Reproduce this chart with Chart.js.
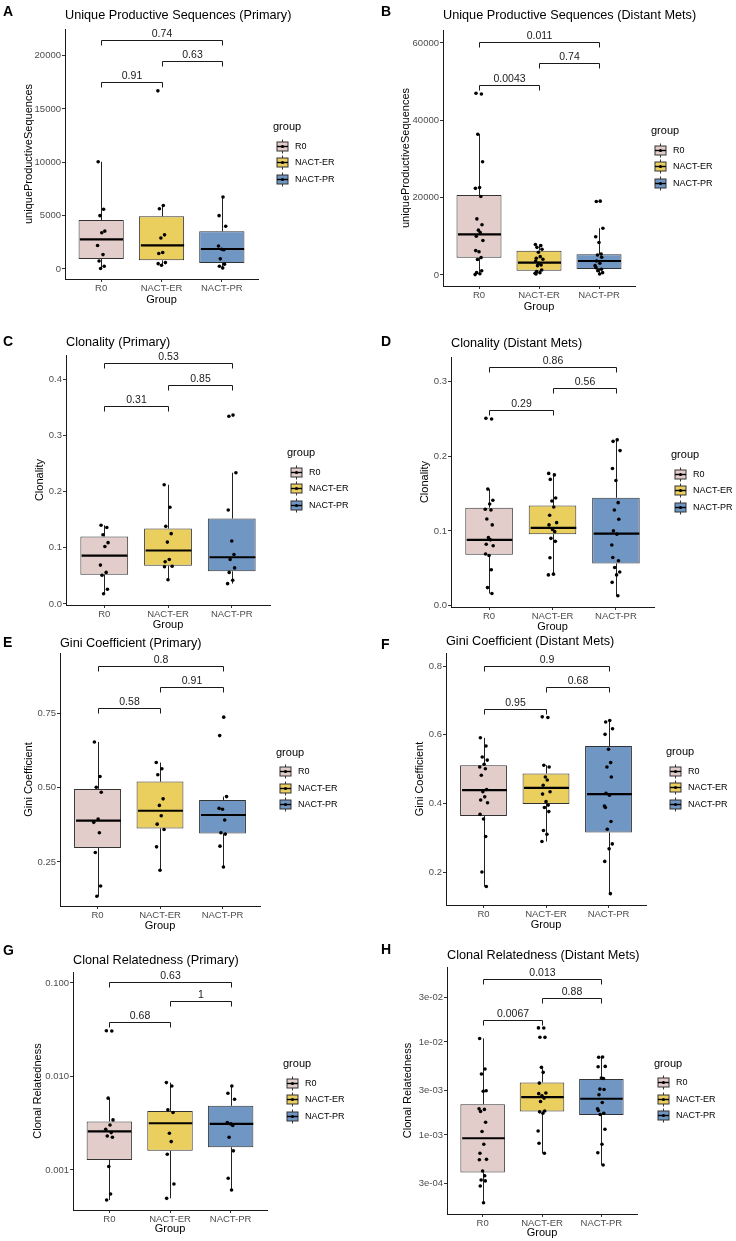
<!DOCTYPE html>
<html>
<head>
<meta charset="utf-8">
<script src="https://cdn.jsdelivr.net/npm/chart.js@4.4.0/dist/chart.umd.min.js"></script>
<style>
  html, body { margin: 0; padding: 0; background: #fff; overflow: hidden; }
  #figure { position: relative; width: 736px; height: 1241px; background: #fff; }
  #figure canvas { position: absolute; }
</style>
</head>
<body>
<div id="figure"></div>
<script>
// ---- data ----
const categories = ['R0', 'NACT-ER', 'NACT-PR'];
const bracketPairs = [[1, 2], [2, 3], [1, 3]];

// A: unique productive sequences, primary
const uniquePrimaryPoints = [
  [10050, 5600, 5000, 3550, 3400, 2200, 1350, 750, 250, 50],
  [16700, 5950, 5650, 3200, 2900, 1550, 1450, 600, 500, 350],
  [6750, 5000, 4000, 2150, 1850, 1800, 950, 450, 250, 100]
];
const uniquePrimaryBoxes = [   // [lower whisker, q1, median, q3, upper whisker]
  [50, 940, 2780, 4590, 10050],
  [350, 810, 2220, 4940, 5950],
  [100, 560, 1875, 3530, 6750]
];
const uniquePrimaryTicks = [0, 5000, 10000, 15000, 20000];
const uniquePrimaryTickLabels = ['0', '5000', '10000', '15000', '20000'];
const uniquePrimaryBrackets = [17500, 19530, 21500];
const uniquePrimaryPValues = ['0.91', '0.63', '0.74'];

// B: unique productive sequences, distant mets
const uniqueMetsPoints = [
  [47000, 46800, 36400, 29300, 22600, 22400, 20300, 14500, 13000, 11600, 11000, 10000, 8900, 6300, 6000, 4500, 4000, 1100, 600, 300, 100],
  [7900, 7600, 7150, 6640, 5860, 4740, 4310, 4050, 3620, 3020, 2590, 2410, 1290, 860, 600, 430, 260],
  [19100, 19000, 12100, 9900, 8400, 5430, 5170, 4570, 3620, 3020, 2410, 1900, 1470, 1120, 600, 260]
];
const uniqueMetsBoxes = [
  [100, 4480, 10520, 20690, 36400],
  [260, 1120, 3190, 6290, 7900],
  [260, 1550, 3620, 5345, 12100]
];
const uniqueMetsTicks = [0, 20000, 40000, 60000];
const uniqueMetsTickLabels = ['0', '20000', '40000', '60000'];
const uniqueMetsBrackets = [49140, 54740, 60340];
const uniqueMetsPValues = ['0.0043', '0.74', '0.011'];

// C: clonality, primary
const clonalityPrimaryPoints = [
  [0.140, 0.136, 0.123, 0.109, 0.102, 0.069, 0.056, 0.051, 0.026, 0.018],
  [0.212, 0.172, 0.138, 0.125, 0.110, 0.079, 0.075, 0.067, 0.066, 0.043],
  [0.336, 0.334, 0.2335, 0.167, 0.112, 0.088, 0.079, 0.064, 0.056, 0.042, 0.036]
];
const clonalityPrimaryBoxes = [
  [0.018, 0.052, 0.086, 0.120, 0.140],
  [0.043, 0.068, 0.095, 0.134, 0.212],
  [0.036, 0.058, 0.083, 0.152, 0.2335]
];
const clonalityPrimaryTicks = [0, 0.1, 0.2, 0.3, 0.4];
const clonalityPrimaryTickLabels = ['0.0', '0.1', '0.2', '0.3', '0.4'];
const clonalityPrimaryBrackets = [0.353, 0.390, 0.429];
const clonalityPrimaryPValues = ['0.31', '0.85', '0.53'];

// D: clonality, distant mets
const clonalityMetsPoints = [
  [0.251, 0.250, 0.156, 0.141, 0.136, 0.129, 0.128, 0.116, 0.108, 0.091, 0.088, 0.082, 0.080, 0.069, 0.067, 0.048, 0.024, 0.016],
  [0.177, 0.175, 0.169, 0.144, 0.140, 0.132, 0.121, 0.111, 0.108, 0.102, 0.099, 0.090, 0.086, 0.064, 0.042, 0.041],
  [0.222, 0.220, 0.2076, 0.1836, 0.1676, 0.1378, 0.128, 0.1156, 0.100, 0.0956, 0.081, 0.0644, 0.060, 0.051, 0.045, 0.041, 0.031, 0.013]
];
const clonalityMetsBoxes = [
  [0.016, 0.068, 0.088, 0.131, 0.156],
  [0.041, 0.0956, 0.104, 0.134, 0.177],
  [0.013, 0.0564, 0.0964, 0.1444, 0.222]
];
const clonalityMetsTicks = [0, 0.1, 0.2, 0.3];
const clonalityMetsTickLabels = ['0.0', '0.1', '0.2', '0.3'];
const clonalityMetsBrackets = [0.262, 0.291, 0.319];
const clonalityMetsPValues = ['0.29', '0.56', '0.86'];

// E: gini coefficient, primary
const giniPrimaryPoints = [
  [0.653, 0.537, 0.501, 0.484, 0.394, 0.383, 0.348, 0.2815, 0.169, 0.135],
  [0.584, 0.563, 0.543, 0.462, 0.440, 0.405, 0.377, 0.359, 0.3007, 0.222],
  [0.7365, 0.6745, 0.4696, 0.430, 0.4268, 0.3908, 0.348, 0.3435, 0.303, 0.233]
];
const giniPrimaryBoxes = [
  [0.135, 0.297, 0.3885, 0.4955, 0.653],
  [0.222, 0.3626, 0.422, 0.520, 0.584],
  [0.233, 0.3457, 0.4077, 0.458, 0.4696]
];
const giniPrimaryTicks = [0.25, 0.5, 0.75];
const giniPrimaryTickLabels = ['0.25', '0.50', '0.75'];
const giniPrimaryBrackets = [0.766, 0.838, 0.909];
const giniPrimaryPValues = ['0.58', '0.91', '0.8'];

// F: gini coefficient, distant mets
const giniMetsPoints = [
  [0.591, 0.567, 0.535, 0.526, 0.514, 0.506, 0.501, 0.482, 0.4406, 0.434, 0.419, 0.4097, 0.402, 0.368, 0.3546, 0.3034, 0.200, 0.158],
  [0.652, 0.650, 0.511, 0.506, 0.477, 0.468, 0.453, 0.434, 0.427, 0.405, 0.395, 0.388, 0.376, 0.321, 0.310, 0.289],
  [0.6415, 0.637, 0.6174, 0.601, 0.5575, 0.5188, 0.506, 0.477, 0.429, 0.424, 0.392, 0.388, 0.347, 0.3246, 0.282, 0.2676, 0.231, 0.137]
];
const giniMetsBoxes = [
  [0.158, 0.3633, 0.4386, 0.511, 0.591],
  [0.289, 0.398, 0.4454, 0.487, 0.511],
  [0.137, 0.315, 0.427, 0.567, 0.6415]
];
const giniMetsTicks = [0.2, 0.4, 0.6, 0.8];
const giniMetsTickLabels = ['0.2', '0.4', '0.6', '0.8'];
const giniMetsBrackets = [0.675, 0.740, 0.801];
const giniMetsPValues = ['0.95', '0.68', '0.9'];

// G: clonal relatedness, primary (log axis)
const relatedPrimaryPoints = [
  [0.0308, 0.0306, 0.00586, 0.00343, 0.00303, 0.00273, 0.00251, 0.00231, 0.00224, 0.00109, 0.000553, 0.000477],
  [0.0086, 0.0079, 0.0044, 0.00411, 0.00247, 0.00201, 0.00147, 0.000708, 0.000497],
  [0.0079, 0.00662, 0.00571, 0.00321, 0.00311, 0.00299, 0.00224, 0.0016, 0.000814, 0.00061]
];
const relatedPrimaryBoxes = [
  [0.000477, 0.00128, 0.00258, 0.0033, 0.00586],
  [0.000497, 0.0016, 0.00316, 0.00428, 0.0086],
  [0.00061, 0.00175, 0.00311, 0.00485, 0.0079]
];
const relatedPrimaryTicks = [0.001, 0.01, 0.1];
const relatedPrimaryTickLabels = ['0.001', '0.010', '0.100'];
const relatedPrimaryBrackets = [0.0379, 0.0637, 0.1026];
const relatedPrimaryPValues = ['0.68', '1', '0.63'];

// H: clonal relatedness, distant mets (log axis)
const relatedMetsPoints = [
  [0.0109, 0.00512, 0.00452, 0.00299, 0.00295, 0.00191, 0.00188, 0.00179, 0.00137, 0.00109, 0.000793, 0.000634, 0.000546, 0.00054, 0.000409, 0.000364, 0.000327, 0.00032, 0.000282, 0.000186],
  [0.01416, 0.0141, 0.01122, 0.0112, 0.00533, 0.00471, 0.00361, 0.00282, 0.00278, 0.00264, 0.00249, 0.00229, 0.00181, 0.00177, 0.00171, 0.0011, 0.000813, 0.000634],
  [0.00689, 0.00685, 0.00546, 0.0054, 0.00409, 0.00405, 0.00311, 0.00308, 0.0027, 0.00223, 0.00191, 0.00183, 0.00171, 0.00166, 0.00115, 0.000793, 0.000644, 0.000474]
];
const relatedMetsBoxes = [
  [0.000186, 0.000395, 0.00092, 0.00214, 0.0109],
  [0.000634, 0.00179, 0.00255, 0.00367, 0.00533],
  [0.000474, 0.00164, 0.00245, 0.00399, 0.00689]
];
const relatedMetsTicks = [0.0003, 0.001, 0.003, 0.01, 0.03];
const relatedMetsTickLabels = ['3e-04', '1e-03', '3e-03', '1e-02', '3e-02'];
const relatedMetsBrackets = [0.0174, 0.0294, 0.0471];
const relatedMetsPValues = ['0.0067', '0.88', '0.013'];

// fixed horizontal jitter pattern (in category units)
const jitterOffsets = [-0.05, 0.04, -0.02, 0.06, 0.01, -0.06, 0.03, -0.035, 0.05, -0.01, 0.02, -0.045, 0.065, -0.055, 0.0, 0.035, -0.025, 0.045, -0.04, 0.015, -0.065];

// ---- styling / layout ----
const FONT = '"Liberation Sans", Arial, sans-serif';
const groupColors = ['#E2CDCA', '#EACE5E', '#7096C4'];
const rowTops = [0, 314, 634, 938];
const CANVAS_W = 368, CANVAS_H = 334;
Chart.defaults.font.family = FONT;

// area = [left, top, right, bottom] of the plot panel in page pixels
const panels = [
  { letter: 'A', col: 0, row: 0, title: 'Unique Productive Sequences (Primary)', yTitle: 'uniqueProductiveSequences', log: false,
    points: uniquePrimaryPoints, boxes: uniquePrimaryBoxes, ticks: uniquePrimaryTicks, tickLabels: uniquePrimaryTickLabels,
    levels: uniquePrimaryBrackets, pvalues: uniquePrimaryPValues, yRange: [-940, 22500],
    area: [65, 29, 258, 279], yTitleX: 29, xTitleY: 300, titleY: 15, letterY: 12, legendDx: 15 },
  { letter: 'B', col: 1, row: 0, title: 'Unique Productive Sequences (Distant Mets)', yTitle: 'uniqueProductiveSequences', log: false,
    points: uniqueMetsPoints, boxes: uniqueMetsBoxes, ticks: uniqueMetsTicks, tickLabels: uniqueMetsTickLabels,
    levels: uniqueMetsBrackets, pvalues: uniqueMetsPValues, yRange: [-2850, 63360],
    area: [443, 30, 635, 286], yTitleX: 406, xTitleY: 307, titleY: 15, letterY: 12, legendDx: 16 },
  { letter: 'C', col: 0, row: 1, title: 'Clonality (Primary)', yTitle: 'Clonality', log: false,
    points: clonalityPrimaryPoints, boxes: clonalityPrimaryBoxes, ticks: clonalityPrimaryTicks, tickLabels: clonalityPrimaryTickLabels,
    levels: clonalityPrimaryBrackets, pvalues: clonalityPrimaryPValues, yRange: [-0.002, 0.443],
    area: [66, 355, 270, 605], yTitleX: 40, xTitleY: 625, titleY: 342, letterY: 342, legendDx: 17 },
  { letter: 'D', col: 1, row: 1, title: 'Clonality (Distant Mets)', yTitle: 'Clonality', log: false,
    points: clonalityMetsPoints, boxes: clonalityMetsBoxes, ticks: clonalityMetsTicks, tickLabels: clonalityMetsTickLabels,
    levels: clonalityMetsBrackets, pvalues: clonalityMetsPValues, yRange: [-0.002, 0.333],
    area: [451, 357, 654, 607], yTitleX: 425, xTitleY: 627, titleY: 343, letterY: 342, legendDx: 17 },
  { letter: 'E', col: 0, row: 2, title: 'Gini Coefficient (Primary)', yTitle: 'Gini Coefficient', log: false,
    points: giniPrimaryPoints, boxes: giniPrimaryBoxes, ticks: giniPrimaryTicks, tickLabels: giniPrimaryTickLabels,
    levels: giniPrimaryBrackets, pvalues: giniPrimaryPValues, yRange: [0.102, 0.952],
    area: [60, 653, 260, 906], yTitleX: 29, xTitleY: 926, titleY: 643, letterY: 643, legendDx: 16 },
  { letter: 'F', col: 1, row: 2, title: 'Gini Coefficient (Distant Mets)', yTitle: 'Gini Coefficient', log: false,
    points: giniMetsPoints, boxes: giniMetsBoxes, ticks: giniMetsTicks, tickLabels: giniMetsTickLabels,
    levels: giniMetsBrackets, pvalues: giniMetsPValues, yRange: [0.104, 0.838],
    area: [446, 653, 646, 905], yTitleX: 420, xTitleY: 925, titleY: 641, letterY: 645, legendDx: 20 },
  { letter: 'G', col: 0, row: 3, title: 'Clonal Relatedness (Primary)', yTitle: 'Clonal Relatedness', log: true,
    points: relatedPrimaryPoints, boxes: relatedPrimaryBoxes, ticks: relatedPrimaryTicks, tickLabels: relatedPrimaryTickLabels,
    levels: relatedPrimaryBrackets, pvalues: relatedPrimaryPValues, yRange: [0.000373, 0.131],
    area: [73, 972, 267, 1210], yTitleX: 38, xTitleY: 1229, titleY: 960, letterY: 951, legendDx: 16 },
  { letter: 'H', col: 1, row: 3, title: 'Clonal Relatedness (Distant Mets)', yTitle: 'Clonal Relatedness', log: true,
    points: relatedMetsPoints, boxes: relatedMetsBoxes, ticks: relatedMetsTicks, tickLabels: relatedMetsTickLabels,
    levels: relatedMetsBrackets, pvalues: relatedMetsPValues, yRange: [0.000141, 0.064],
    area: [447, 967, 637, 1214], yTitleX: 408, xTitleY: 1233, titleY: 955, letterY: 950, legendDx: 17 }
];

// whiskers, medians, brackets, legend, titles
function makeExtras(p, rowTop) {
  return {
    id: 'ggExtras',
    afterDatasetDraw(chart, args) {
      if (args.index !== 1) return;
      const { ctx, scales: { x, y } } = chart;
      const bars = chart.getDatasetMeta(1).data;
      ctx.save();
      p.boxes.forEach((b, i) => {
        const cx = Math.round(x.getPixelForValue(i + 1)) + 0.5;
        const half = bars[i].width / 2;
        ctx.strokeStyle = '#222';
        ctx.lineWidth = 1;
        ctx.beginPath();
        ctx.moveTo(cx, y.getPixelForValue(b[0]));
        ctx.lineTo(cx, y.getPixelForValue(b[1]));
        ctx.moveTo(cx, y.getPixelForValue(b[3]));
        ctx.lineTo(cx, y.getPixelForValue(b[4]));
        ctx.stroke();
        ctx.strokeStyle = '#000';
        ctx.lineWidth = 2.2;
        ctx.beginPath();
        const my = y.getPixelForValue(b[2]);
        ctx.moveTo(cx - half + 1, my);
        ctx.lineTo(cx + half - 1, my);
        ctx.stroke();
      });
      ctx.restore();
    },
    afterDraw(chart) {
      const { ctx, chartArea: a, scales: { x, y } } = chart;
      ctx.save();

      // significance brackets
      ctx.strokeStyle = '#1a1a1a';
      ctx.fillStyle = '#1a1a1a';
      ctx.lineWidth = 1;
      ctx.font = `10.5px ${FONT}`;
      ctx.textAlign = 'center';
      ctx.textBaseline = 'bottom';
      bracketPairs.forEach(([g1, g2], k) => {
        const yy = Math.round(y.getPixelForValue(p.levels[k])) + 0.5;
        const xa = Math.round(x.getPixelForValue(g1)) + 0.5;
        const xb = Math.round(x.getPixelForValue(g2)) + 0.5;
        ctx.beginPath();
        ctx.moveTo(xa, yy + 5);
        ctx.lineTo(xa, yy);
        ctx.lineTo(xb, yy);
        ctx.lineTo(xb, yy + 5);
        ctx.stroke();
        ctx.fillText(p.pvalues[k], (xa + xb) / 2, yy - 1.5);
      });

      // legend
      const lx = a.right + p.legendDx;
      const mid = (a.top + a.bottom) / 2;
      ctx.textAlign = 'left';
      ctx.textBaseline = 'middle';
      ctx.fillStyle = '#000';
      ctx.font = `11px ${FONT}`;
      ctx.fillText('group', lx, mid - 27);
      categories.forEach((c, i) => {
        const ky = Math.round(mid - 8.5 + i * 16.5) + 0.5;
        const kx = Math.round(lx + 9) + 0.5;
        ctx.strokeStyle = '#333';
        ctx.lineWidth = 1;
        ctx.beginPath();
        ctx.moveTo(kx, ky - 7);
        ctx.lineTo(kx, ky + 7);
        ctx.stroke();
        ctx.fillStyle = groupColors[i];
        ctx.fillRect(kx - 5.5, ky - 4.5, 11, 9);
        ctx.strokeRect(kx - 5.5, ky - 4.5, 11, 9);
        ctx.strokeStyle = '#000';
        ctx.lineWidth = 1.4;
        ctx.beginPath();
        ctx.moveTo(kx - 5.5, ky);
        ctx.lineTo(kx + 5.5, ky);
        ctx.stroke();
        ctx.fillStyle = '#000';
        ctx.beginPath();
        ctx.arc(kx, ky, 1.6, 0, Math.PI * 2);
        ctx.fill();
        ctx.font = `9px ${FONT}`;
        ctx.fillText(c, lx + 22, ky);
      });

      // plot title and panel letter
      ctx.fillStyle = '#000';
      ctx.font = `12.7px ${FONT}`;
      ctx.fillText(p.title, a.left, p.titleY - rowTop);
      ctx.font = `bold 14px ${FONT}`;
      ctx.fillText(p.letter, p.col === 0 ? 3 : 13, p.letterY - rowTop);
      ctx.restore();
    }
  };
}

const fig = document.getElementById('figure');

function makeChart(p) {
  const colLeft = p.col * CANVAS_W;
  const rowTop = rowTops[p.row];
  const canvas = document.createElement('canvas');
  canvas.width = CANVAS_W;
  canvas.height = CANVAS_H;
  canvas.style.left = colLeft + 'px';
  canvas.style.top = rowTop + 'px';
  canvas.style.width = CANVAS_W + 'px';
  canvas.style.height = CANVAS_H + 'px';
  fig.appendChild(canvas);

  const [x0, y0, x1, y1] = p.area;
  const yWidth = x0 - p.yTitleX + 10.6;
  const xHeight = p.xTitleY + 10.6 - y1;
  const padding = {
    top: y0 - rowTop,
    left: x0 - colLeft - yWidth,
    right: colLeft + CANVAS_W - x1,
    bottom: CANVAS_H - (p.xTitleY - rowTop + 10.6)
  };

  const pts = [];
  p.points.forEach((vals, g) => {
    vals.forEach((v, k) => {
      pts.push({ x: g + 1 + jitterOffsets[(k + g * 5) % jitterOffsets.length], y: v });
    });
  });

  new Chart(canvas, {
    type: 'scatter',
    data: {
      datasets: [
        { data: pts, pointRadius: 1.8, backgroundColor: '#000', borderWidth: 0, order: 0 },
        {
          type: 'bar',
          data: p.boxes.map((b, i) => ({ x: i + 1, y: [b[1], b[3]] })),
          backgroundColor: groupColors,
          borderColor: '#333',
          borderWidth: 1,
          borderSkipped: false,
          categoryPercentage: 1,
          barPercentage: 0.75,
          order: 1
        }
      ]
    },
    options: {
      responsive: false,
      animation: false,
      events: [],
      layout: { padding },
      plugins: { legend: { display: false }, tooltip: { enabled: false } },
      scales: {
        x: {
          type: 'linear',
          offset: false,
          min: 0.4,
          max: 3.6,
          afterBuildTicks: s => { s.ticks = [1, 2, 3].map(v => ({ value: v })); },
          ticks: { callback: v => categories[v - 1], color: '#4D4D4D', font: { size: 9.5 }, padding: 1, maxRotation: 0, autoSkip: false },
          grid: { offset: false, drawOnChartArea: false, color: '#333', tickColor: '#333', tickLength: 3 },
          border: { color: '#1a1a1a', width: 1 },
          title: { display: true, text: 'Group', color: '#000', font: { size: 11 }, padding: { top: 4, bottom: 4 } },
          afterFit: s => { s.height = xHeight; }
        },
        y: {
          type: p.log ? 'logarithmic' : 'linear',
          beginAtZero: false,
          min: p.yRange[0],
          max: p.yRange[1],
          afterBuildTicks: s => { s.ticks = p.ticks.map(v => ({ value: v })); },
          ticks: { callback: (v, i) => p.tickLabels[i], color: '#4D4D4D', font: { size: 9.5 }, padding: 1, autoSkip: false },
          grid: { drawOnChartArea: false, color: '#333', tickColor: '#333', tickLength: 3 },
          border: { color: '#1a1a1a', width: 1 },
          title: { display: true, text: p.yTitle, color: '#000', font: { size: 11 }, padding: { top: 4, bottom: 4 } },
          afterFit: s => { s.width = yWidth; }
        }
      }
    },
    plugins: [makeExtras(p, rowTop)]
  });
}

panels.forEach(makeChart);
</script>
</body>
</html>
